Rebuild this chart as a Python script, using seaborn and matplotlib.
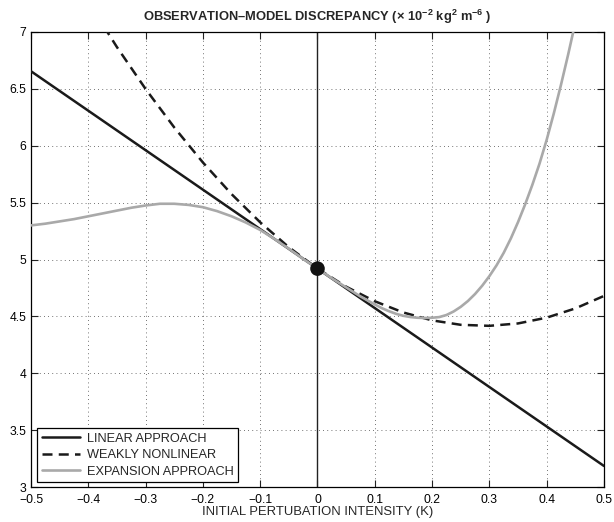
"""
Observation-model discrepancy versus initial perturbation intensity.
"""
import matplotlib
matplotlib.use("Agg")
from matplotlib import pyplot as plt
from matplotlib.ticker import FuncFormatter
import pandas as pd
import seaborn as sns

# values
x_linear = [-0.5, 0.0, 0.5]
y_linear = [6.655, 4.92, 3.185]

x_weak = [-0.5, -0.45, -0.4, -0.35, -0.3, -0.25, -0.2, -0.15, -0.1, -0.05, 0.0,
          0.05, 0.1, 0.15, 0.2, 0.25, 0.3, 0.35, 0.4, 0.45, 0.5]
y_weak = [8.150, 7.693, 7.265, 6.867, 6.499, 6.161, 5.853, 5.575, 5.327, 5.108, 4.920,
          4.761, 4.633, 4.534, 4.465, 4.426, 4.417, 4.438, 4.489, 4.570, 4.680]

x_expansion = [-0.5, -0.475, -0.45, -0.425, -0.4, -0.375, -0.35, -0.325, -0.3, -0.275,
               -0.25, -0.225, -0.2, -0.175, -0.15, -0.125, -0.1, -0.075, -0.05, -0.025,
               0.0, 0.025, 0.05, 0.075, 0.1, 0.1125, 0.125, 0.1375, 0.15, 0.1625,
               0.175, 0.1875, 0.2, 0.2125, 0.225, 0.2375, 0.25, 0.2625, 0.275, 0.2875,
               0.3, 0.3125, 0.325, 0.3375, 0.35, 0.3625, 0.375, 0.3875, 0.4, 0.4125,
               0.425, 0.4375, 0.45]
y_expansion = [5.30, 5.315, 5.335, 5.355, 5.38, 5.405, 5.43, 5.455, 5.475, 5.49,
               5.49, 5.48, 5.46, 5.425, 5.38, 5.325, 5.26, 5.18, 5.095, 5.005,
               4.92, 4.835, 4.755, 4.675, 4.605, 4.572, 4.545, 4.522, 4.505, 4.494,
               4.488, 4.486, 4.488, 4.494, 4.512, 4.543, 4.584, 4.635, 4.697, 4.770,
               4.854, 4.949, 5.059, 5.186, 5.329, 5.486, 5.657, 5.843, 6.053, 6.286,
               6.537, 6.803, 7.084]

x_point = [0.0]
y_point = [4.92]

x_ticks = [-0.5, -0.4, -0.3, -0.2, -0.1, 0.0, 0.1, 0.2, 0.3, 0.4, 0.5]
y_ticks = [3, 3.5, 4, 4.5, 5, 5.5, 6, 6.5, 7]

sns.set_style("ticks")
plt.rcParams["font.family"] = ["Liberation Sans", "DejaVu Sans"]
plt.rcParams["mathtext.fontset"] = "custom"
plt.rcParams["mathtext.rm"] = "Liberation Sans:bold"
plt.rcParams["mathtext.it"] = "Liberation Sans:bold"
plt.rcParams["mathtext.bf"] = "Liberation Sans:bold"

fig = plt.figure(figsize=(6.14, 5.22), dpi=100)
ax = fig.add_axes([0.0505, 0.067, 0.9332, 0.8717])

ax.axvline(0, color="#222222", lw=1.0, zorder=2)

sns.lineplot(data=pd.DataFrame({"x": x_linear, "y": y_linear}), x="x", y="y",
             ax=ax, color="#1a1a1a", lw=1.8, label="LINEAR APPROACH", zorder=3)
sns.lineplot(data=pd.DataFrame({"x": x_weak, "y": y_weak}), x="x", y="y",
             ax=ax, color="#1a1a1a", lw=1.8, label="WEAKLY NONLINEAR", zorder=3)
ax.lines[-1].set_dashes([4, 2.5])
sns.lineplot(data=pd.DataFrame({"x": x_expansion, "y": y_expansion}), x="x", y="y",
             ax=ax, color="#a9a9a9", lw=1.9, label="EXPANSION APPROACH", zorder=3)
sns.scatterplot(x=x_point, y=y_point, ax=ax, color="#111111", s=110,
                edgecolor="none", zorder=5)

ax.set_xlim(-0.5, 0.5)
ax.set_ylim(3, 7)
ax.set_xticks(x_ticks)
ax.set_yticks(y_ticks)
fmt = FuncFormatter(lambda v, p: ("%g" % round(v, 2)).replace("-", "\u2212"))
ax.xaxis.set_major_formatter(fmt)
ax.yaxis.set_major_formatter(fmt)
ax.tick_params(direction="in", length=5, width=0.8, labelsize=8.7,
               top=True, right=True, colors="#222222", labelcolor="black")
ax.tick_params(axis="x", pad=5)
ax.grid(True, linestyle=(0, (1, 4)), color="#444444", lw=0.6)
for s in ax.spines.values():
    s.set_linewidth(0.9)
    s.set_color("black")

ax.set_xlabel("INITIAL PERTUBATION INTENSITY (K)", fontsize=9.4, labelpad=0)
ax.set_ylabel("")
ax.set_title(r"OBSERVATION–MODEL DISCREPANCY ($\times$ 10$^{-2}$ kg$^{2}$ m$^{-6}$ )",
             fontsize=9.3, fontweight="bold", pad=8)

leg = ax.legend(loc="lower left", bbox_to_anchor=(0.011, 0.011), borderaxespad=0,
                fontsize=9.2, frameon=True, fancybox=False, handlelength=3.0,
                handletextpad=0.5, labelspacing=0.35, borderpad=0.35)
leg.get_frame().set_edgecolor("black")
leg.get_frame().set_linewidth(0.9)
leg.get_frame().set_alpha(1)

fig.savefig("out.png", dpi=100)
